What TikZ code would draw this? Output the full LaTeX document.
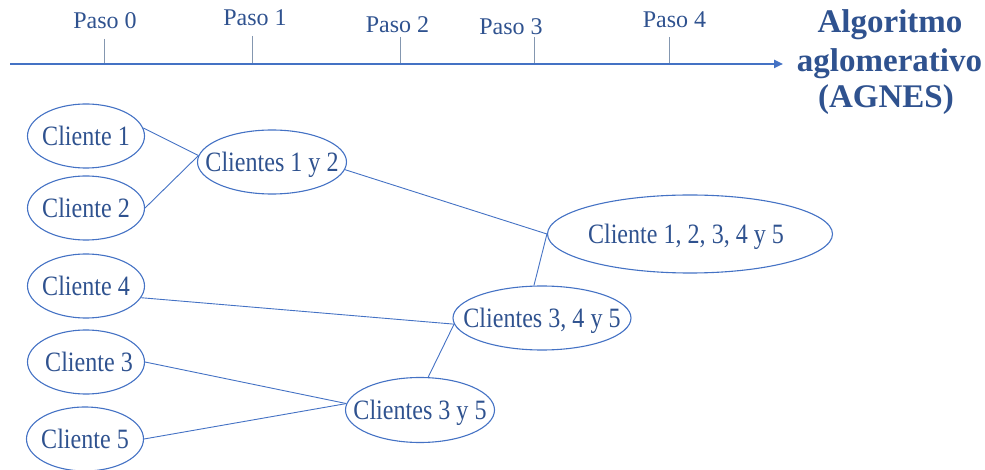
\documentclass[tikz,border=0pt]{standalone}
\usepackage{fontspec}
\setmainfont{Liberation Serif}
\newfontfamily\ellfont[FakeStretch=0.86]{Liberation Serif}
\usetikzlibrary{shapes.geometric,arrows.meta}
\definecolor{txtblue}{RGB}{47,82,143}
\definecolor{lnblue}{RGB}{68,114,196}
\definecolor{tickgray}{RGB}{132,151,176}
\begin{document}
\begin{tikzpicture}[x=1pt,y=-1pt,
  ell/.style={ellipse,draw=lnblue,line width=1.1pt,inner sep=0pt},
  lbl/.style={font=\ellfont\fontsize{28}{30}\selectfont,text=txtblue,inner sep=0pt,text height=18.5pt,text depth=0pt},
  paso/.style={font=\fontsize{24}{26}\selectfont,text=txtblue,inner sep=0pt,text height=15.8pt,text depth=0pt},
  titletext/.style={font=\bfseries\fontsize{33}{36}\selectfont,text=txtblue,inner sep=0pt,anchor=base},
  conn/.style={draw=lnblue,line width=0.9pt},
  tickline/.style={draw=tickgray,line width=1pt},
  axisline/.style={draw=lnblue,line width=2.6pt,-{Triangle[length=9pt,width=8pt]}}
]
\useasboundingbox (0,0) rectangle (985,470);

% axis
\coordinate (ax0) at (10,64);
\coordinate (ax1) at (783,64);
\draw[axisline] (ax0) -- (ax1);
\foreach \n/\x/\top in {0/104/39,1/252/36,2/400/37,3/534/37,4/669/37}{
  \coordinate (tt\n) at (\x,\top);
  \coordinate (tb\n) at (\x,63);
  \draw[tickline] (tt\n) -- (tb\n);
}
\node[paso] (p0) at (105,21) {Paso 0};
\node[paso] (p1) at (255,17.5) {Paso 1};
\node[paso] (p2) at (397.5,25) {Paso 2};
\node[paso] (p3) at (511,27) {Paso 3};
\node[paso] (p4) at (674.5,20) {Paso 4};

\node[titletext] (t1) at (890,33) {Algoritmo};
\node[titletext] (t2) at (889.5,72) {aglomerativo};
\node[titletext] (t3) at (886,108) {(AGNES)};

% ellipses
\node[ell,minimum width=117pt,minimum height=64pt] (c1) at (86,136) {};
\node[ell,minimum width=117pt,minimum height=64pt] (c2) at (86,208) {};
\node[ell,minimum width=117pt,minimum height=64pt] (c4) at (86,286) {};
\node[ell,minimum width=117pt,minimum height=64pt] (c3) at (86,362) {};
\node[ell,minimum width=117pt,minimum height=64pt] (c5) at (85,439) {};
\node[ell,minimum width=149pt,minimum height=64pt] (c12) at (272,162) {};
\node[ell,minimum width=149pt,minimum height=65pt] (c35) at (420,410) {};
\node[ell,minimum width=178pt,minimum height=64pt] (c345) at (542,318) {};
\node[ell,minimum width=285pt,minimum height=78pt] (call) at (690,234) {};

\node[lbl] (l1) at (c1) {Cliente 1};
\node[lbl] (l2) at (c2) {Cliente 2};
\node[lbl] (l4) at (c4) {Cliente 4};
\node[lbl] (l3) at ([xshift=3pt]c3.center) {Cliente 3};
\node[lbl] (l5) at (c5) {Cliente 5};
\node[lbl] (l12) at (c12) {Clientes 1 y 2};
\node[lbl] (l35) at (c35) {Clientes 3 y 5};
\node[lbl] (l345) at (c345) {Clientes 3, 4 y 5};
\node[lbl] (lall) at ([xshift=-4pt]call.center) {Cliente 1, 2, 3, 4 y 5};

% connectors
\draw[conn] (c1.8) -- (c12.175);
\draw[conn] (c2.east) -- (c12.175);
\draw[conn] (c12.-6) -- (call.west);
\draw[conn] (c4.-12) -- (c345.184);
\draw[conn] (c35.76) -- (c345.184);
\draw[conn] (c345.104) -- (call.west);
\draw[conn] (c3.east) -- (c35.175);
\draw[conn] (c5.east) -- (c35.175);
\end{tikzpicture}
\end{document}
